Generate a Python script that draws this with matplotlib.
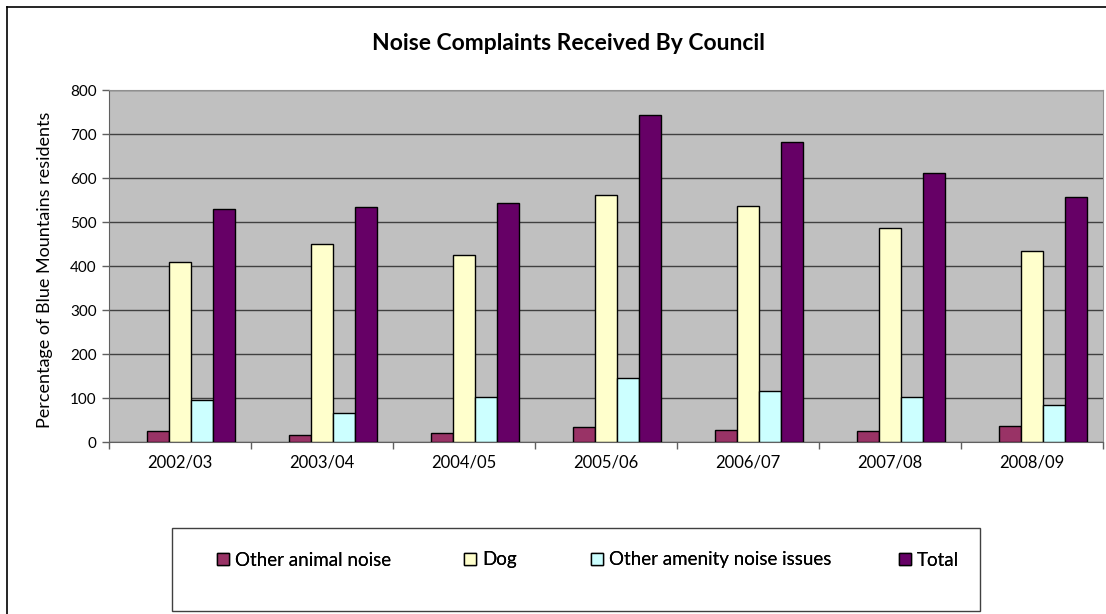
import matplotlib
matplotlib.use('Agg')
import matplotlib.pyplot as plt
import numpy as np
from matplotlib.lines import Line2D
from matplotlib.patches import Rectangle

plt.rcParams['font.family'] = ['Lato', 'DejaVu Sans']

years = ['2002/03', '2003/04', '2004/05', '2005/06', '2006/07', '2007/08', '2008/09']
other_animal = [24, 17, 21, 33, 27, 24, 37]
dog = [410, 449, 424, 561, 537, 486, 434]
amenity = [95, 65, 102, 146, 115, 102, 85]
total = [530, 534, 543, 743, 681, 612, 557]

series = [
    ('Other animal noise', other_animal, '#993366'),
    ('Dog', dog, '#FFFFCC'),
    ('Other amenity noise issues', amenity, '#CCFFFF'),
    ('Total', total, '#660066'),
]

fig = plt.figure(figsize=(11.06, 6.14), dpi=100)
ax = fig.add_axes([109/1106, 1 - 442/614, (1103-109)/1106, (442-90)/614])
ax.set_facecolor('#C0C0C0')

x = np.arange(len(years))
w = 1 / 6.5  # excel gap width 150%, 5 slots (first slot empty)
handles = []
for i, (name, vals, col) in enumerate(series):
    b = ax.bar(x + (i - 1) * w, vals, w, color=col, edgecolor='black',
               linewidth=1.0, label=name, zorder=3)
    handles.append(b)

ax.set_xlim(-0.5, len(years) - 0.5)
ax.set_ylim(0, 800)
ax.set_yticks(range(0, 801, 100))
ax.yaxis.grid(True, color='#404040', linewidth=1.0, zorder=1)
ax.set_axisbelow(True)
ax.tick_params(axis='y', direction='out', length=5, width=1, color='#606060',
               labelsize=11, pad=4)
ax.set_xticks(x)
ax.set_xticklabels(years)
ax.set_xticks(np.arange(len(years) + 1) - 0.5, minor=True)
ax.tick_params(axis='x', which='major', length=0, labelsize=12, pad=9)
ax.tick_params(axis='x', which='minor', direction='out', length=5, width=1, color='#606060')
for s in ['top', 'right']:
    ax.spines[s].set_color('#909090')
for s in ['left', 'bottom']:
    ax.spines[s].set_color('#606060')
ax.set_ylabel('Percentage of Blue Mountains residents', fontsize=13)
ax.yaxis.set_label_coords((53 - 109) / 994, 0.49)

fig.text(568/1106, 1 - 44/614, 'Noise Complaints Received By Council',
         ha='center', va='center', fontsize=16.5, fontweight='bold')

# outer chart frame (cropped at right/bottom)
fig.add_artist(Line2D([7/1106, 7/1106], [0, 1 - 7/614], color='black', linewidth=1.2,
                      transform=fig.transFigure))
fig.add_artist(Line2D([7/1106, 1], [1 - 7/614, 1 - 7/614], color='black', linewidth=1.2,
                      transform=fig.transFigure))

# legend box
fig.add_artist(Rectangle((172/1106, 1 - 611/614), (980-172)/1106, (611-528)/614,
                         transform=fig.transFigure, facecolor='white',
                         edgecolor='#404040', linewidth=1.0))
# one legend per entry so each sits where excel put it
leg_x = [208, 455, 582, 890]
for h, lx in zip(handles, leg_x):
    lg = fig.legend(handles=[h], loc='center left', bbox_to_anchor=(lx/1106, 1 - 560/614),
                    frameon=False, fontsize=13.5, borderpad=0, handlelength=0.6,
                    handleheight=0.6, handletextpad=0.35)
    fig.add_artist(lg)

fig.savefig('out.png', dpi=100)
